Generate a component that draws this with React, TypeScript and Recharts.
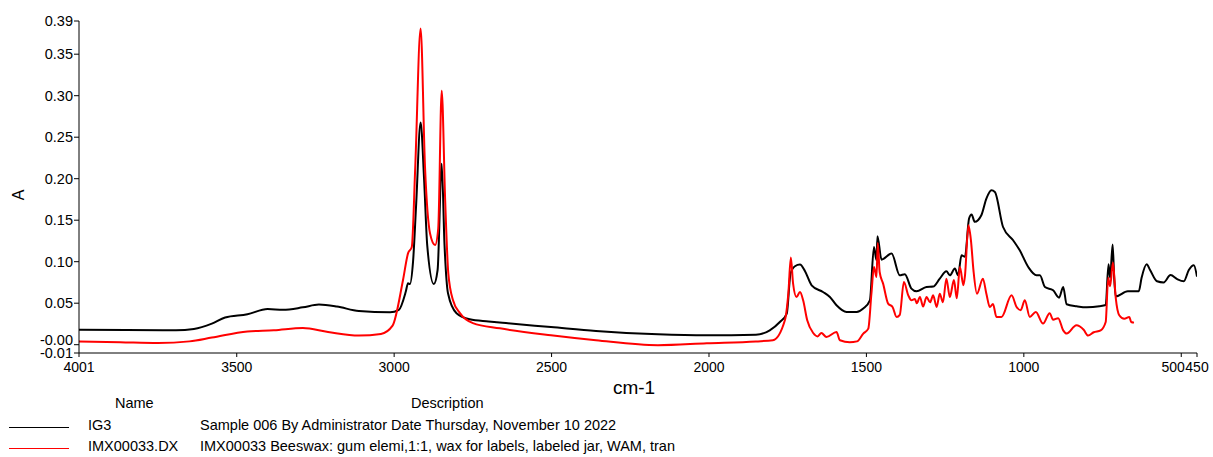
import React from "react";
import { LineChart, Line, XAxis, YAxis } from "recharts";

// IG3 (black) — wavenumber / absorbance
const igWave = [
  4001, 3850, 3693, 3636, 3579, 3537, 3466, 3402, 3353, 3290, 3239, 3182, 3112, 3013, 2985, 2963,
  2956, 2950, 2940, 2930, 2916, 2905, 2895, 2874, 2862, 2849, 2840, 2829, 2802, 2760, 2700, 2645,
  2502, 2359, 2162, 2007, 1851, 1807, 1775, 1753, 1741, 1727, 1711, 1695, 1674, 1638, 1616, 1595,
  1563, 1531, 1510, 1489, 1476, 1468, 1465, 1452, 1420, 1394, 1378, 1357, 1341, 1309, 1288, 1267,
  1246, 1235, 1219, 1209, 1198, 1187, 1174, 1166, 1156, 1135, 1119, 1103, 1092, 1066, 1034, 1013,
  986, 960, 949, 933, 907, 888, 875, 864, 832, 800, 760, 740, 731, 726, 718, 713, 708, 670, 635,
  626, 610, 599, 577, 556, 534, 513, 492, 476, 460, 450,
];
const igAbs = [
  0.018, 0.0178, 0.0175, 0.019, 0.0254, 0.0327, 0.0366, 0.043, 0.042, 0.045, 0.0483, 0.046, 0.0406,
  0.039, 0.042, 0.064, 0.074, 0.073, 0.1, 0.17, 0.2676, 0.2, 0.12, 0.073, 0.09, 0.218, 0.12, 0.062,
  0.038, 0.0306, 0.028, 0.026, 0.0213, 0.0165, 0.0125, 0.0113, 0.012, 0.0173, 0.0273, 0.0375,
  0.0857, 0.0945, 0.0965, 0.0885, 0.0716, 0.0635, 0.0575, 0.0475, 0.0394, 0.0394, 0.0435, 0.0535,
  0.1177, 0.1017, 0.1306, 0.1025, 0.1098, 0.0836, 0.085, 0.0676, 0.0643, 0.0695, 0.07, 0.0796,
  0.0884, 0.0836, 0.0917, 0.0836, 0.1077, 0.106, 0.152, 0.157, 0.148, 0.156, 0.176, 0.186, 0.184,
  0.1418, 0.1258, 0.1137, 0.0936, 0.0836, 0.0836, 0.0695, 0.0655, 0.0567, 0.0695, 0.0487, 0.0463,
  0.045, 0.0463, 0.0478, 0.0969, 0.0806, 0.1206, 0.08, 0.058, 0.0643, 0.0643, 0.0806, 0.0969, 0.09,
  0.0764, 0.075, 0.0839, 0.079, 0.0764, 0.09, 0.0957, 0.082,
];

// IMX00033.DX (red)
const imxWave = [
  4001, 3870, 3750, 3650, 3579, 3466, 3382, 3290, 3210, 3112, 3042, 3005, 2972, 2956, 2944, 2933,
  2916, 2902, 2886, 2870, 2860, 2849, 2838, 2828, 2813, 2791, 2750, 2664, 2502, 2359, 2162, 2007,
  1851, 1797, 1759, 1748, 1740, 1733, 1722, 1711, 1701, 1688, 1669, 1655, 1643, 1627, 1595, 1584,
  1553, 1530, 1510, 1494, 1484, 1476, 1468, 1464, 1458, 1447, 1431, 1417, 1404, 1394, 1381, 1367,
  1357, 1346, 1340, 1330, 1320, 1309, 1298, 1288, 1277, 1267, 1257, 1246, 1235, 1222, 1213, 1203,
  1192, 1187, 1176, 1168, 1160, 1149, 1130, 1119, 1108, 1098, 1087, 1071, 1039, 1023, 1010, 997,
  981, 962, 939, 918, 907, 891, 875, 864, 833, 810, 796, 778, 756, 740, 732, 726, 717, 708, 697,
  681, 665, 659, 650,
];
const imxAbs = [
  0.004, 0.003, 0.002, 0.004, 0.0086, 0.016, 0.0173, 0.02, 0.0153, 0.011, 0.013, 0.023, 0.0776,
  0.11, 0.1177, 0.214, 0.381, 0.214, 0.134, 0.12, 0.14, 0.306, 0.174, 0.086, 0.0535, 0.038, 0.026,
  0.0197, 0.0113, 0.0053, -0.0007, 0.0017, 0.004, 0.0053, 0.0294, 0.0619, 0.105, 0.074, 0.0575,
  0.0635, 0.0535, 0.0294, 0.0141, 0.01, 0.0141, 0.0093, 0.0153, 0.0053, 0.003, 0.004, 0.0134,
  0.0194, 0.062, 0.0936, 0.0816, 0.1225, 0.0876, 0.0736, 0.0495, 0.0455, 0.0334, 0.036, 0.0755,
  0.0595, 0.0535, 0.055, 0.05, 0.0575, 0.046, 0.0575, 0.051, 0.0595, 0.0455, 0.0615, 0.051, 0.0796,
  0.0575, 0.078, 0.056, 0.0936, 0.0716, 0.083, 0.1438, 0.1258, 0.0896, 0.0615, 0.0796, 0.0615,
  0.0454, 0.049, 0.0334, 0.0334, 0.0595, 0.0455, 0.0415, 0.0535, 0.0334, 0.0394, 0.0254, 0.038,
  0.03, 0.032, 0.0173, 0.0134, 0.0234, 0.018, 0.011, 0.015, 0.0173, 0.0273, 0.0806, 0.0703, 0.0989,
  0.056, 0.0355, 0.0313, 0.0334, 0.0273, 0.0266,
];

const xTicks = [4001, 3500, 3000, 2500, 2000, 1500, 1000, 500, 450];
const yTicks = [-0.01, 0, 0.05, 0.1, 0.15, 0.2, 0.25, 0.3, 0.35, 0.39];

const legendRows = [
  { name: "IG3", desc: "Sample 006 By Administrator Date Thursday, November 10 2022", color: "#000000" },
  { name: "IMX00033.DX", desc: "IMX00033 Beeswax: gum elemi,1:1, wax for labels, labeled jar, WAM, tran", color: "#ff0000" },
];

const igData = igWave.map((w, i) => ({ w, a: igAbs[i] }));
const imxData = imxWave.map((w, i) => ({ w, a: imxAbs[i] }));

const FONT = '"Liberation Sans", Arial, sans-serif';

const YTick = (props: any) => {
  const { x, y, payload } = props;
  const v = payload.value;
  const label = v === 0 ? "-0.00" : v.toFixed(2);
  return (
    <text x={x} y={v === 0 ? y - 5 : y} textAnchor="end" dominantBaseline="central"
      fontSize={14.5} fontFamily={FONT} fill="#000">
      {label}
    </text>
  );
};

// 500 sits right next to 450, so it is pushed left to butt against it
const XTick = (props: any) => {
  const { x, y, payload } = props;
  const v = payload.value;
  return (
    <text x={v === 500 ? x + 3.5 : x} y={y} dy="0.71em" textAnchor={v === 500 ? "end" : "middle"}
      fontSize={14} fontFamily={FONT} fill="#000">
      {v}
    </text>
  );
};

const App: React.FC = () => {
  return (
    <div style={{ position: "absolute", left: 0, top: 0, width: 1213, height: 457, background: "#fff", fontFamily: FONT }}>
      <LineChart width={1213} height={457} margin={{ top: 21, right: 16, left: 0, bottom: 74 }}>
        <XAxis
          type="number"
          dataKey="w"
          domain={[450, 4001]}
          reversed
          allowDataOverflow
          ticks={xTicks}
          interval={0}
          height={30}
          tickSize={4}
          tickMargin={5}
          stroke="#000"
          tick={<XTick />}
          label={{
            content: () => (
              <text x={634} y={387} textAnchor="middle" dominantBaseline="central" fontSize={19} fontFamily={FONT} fill="#000">
                cm-1
              </text>
            ),
          }}
        />
        <YAxis
          type="number"
          domain={[-0.01, 0.39]}
          allowDataOverflow
          ticks={yTicks}
          interval={0}
          width={79}
          tickSize={5}
          tickMargin={1}
          stroke="#000"
          tick={<YTick />}
          label={{
            content: () => (
              <text x={18} y={195} transform="rotate(-90 18 195)" textAnchor="middle" dominantBaseline="central" fontSize={16} fontFamily={FONT} fill="#000">
                A
              </text>
            ),
          }}
        />
        <Line data={igData} dataKey="a" type="monotone" stroke="#000000" strokeWidth={2} dot={false} isAnimationActive={false} />
        <Line data={imxData} dataKey="a" type="monotone" stroke="#ff0000" strokeWidth={2} dot={false} isAnimationActive={false} />
      </LineChart>

      <div style={{ position: "absolute", left: 115, top: 395, fontSize: 14.5 }}>Name</div>
      <div style={{ position: "absolute", left: 411, top: 395, fontSize: 14.5 }}>Description</div>
      {legendRows.map((r, i) => (
        <React.Fragment key={r.name}>
          <div style={{ position: "absolute", left: 9, top: 427 + i * 21, width: 60, borderTop: `1px solid ${r.color}` }} />
          <div style={{ position: "absolute", left: 88, top: 417 + i * 21, fontSize: 14.5, whiteSpace: "nowrap" }}>{r.name}</div>
          <div style={{ position: "absolute", left: 200, top: 417 + i * 21, fontSize: 14.5, whiteSpace: "nowrap" }}>{r.desc}</div>
        </React.Fragment>
      ))}
    </div>
  );
};

export default App;
